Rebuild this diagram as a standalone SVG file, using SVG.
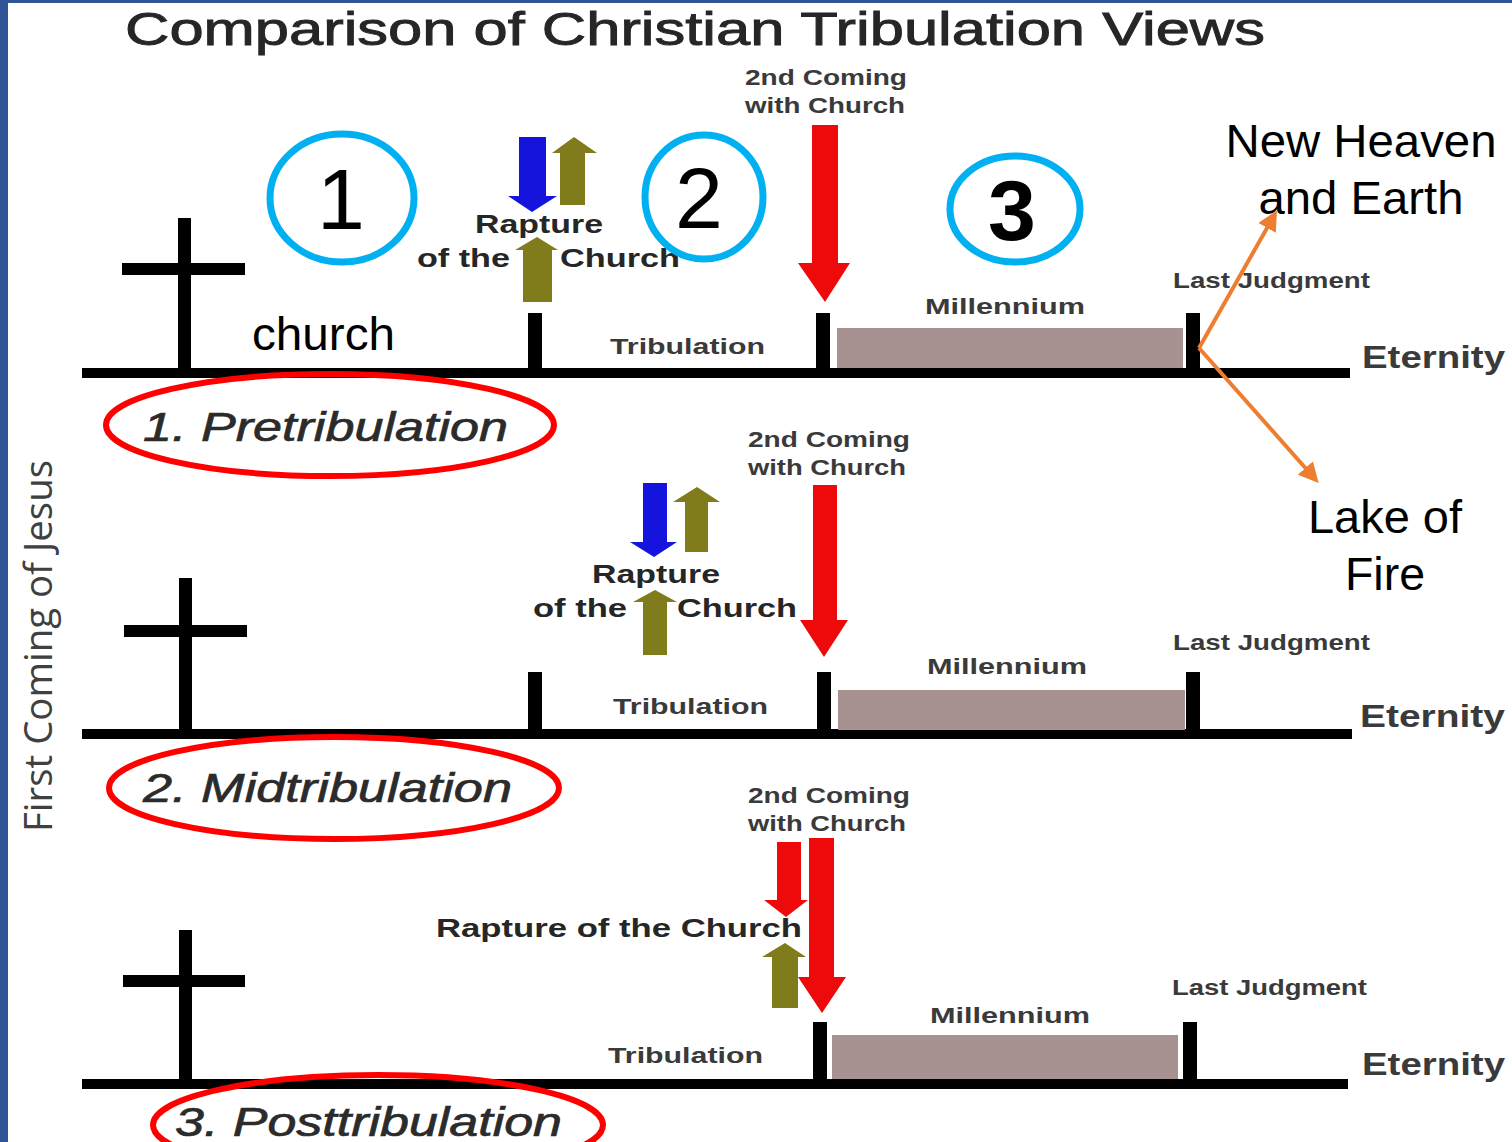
<svg xmlns="http://www.w3.org/2000/svg" width="1512" height="1142" viewBox="0 0 1512 1142">
<style>
.bg{fill:#ffffff}
.frame{fill:#2F5597}
.bar{fill:#000000}
.mill{fill:#A89191}
.lbl{font-family:"Liberation Sans",Arial,sans-serif;font-weight:bold;fill:#3a3a3a;font-size:22px}
.rap{font-family:"Liberation Sans",Arial,sans-serif;font-weight:bold;fill:#262626;font-size:25px}
.eter{font-family:"Liberation Sans",Arial,sans-serif;font-weight:bold;fill:#3a3a3a;font-size:32px}
.view{font-family:"Liberation Sans",Arial,sans-serif;font-style:italic;fill:#2b2b2b;stroke:#2b2b2b;stroke-width:0.7;font-size:40px}
.big{font-family:"Liberation Sans",Arial,sans-serif;fill:#000000;font-size:46px}
.num{font-family:"Liberation Sans",Arial,sans-serif;fill:#000000;font-size:86px;text-anchor:middle}
.bcirc{fill:none;stroke:#00B0F0;stroke-width:7}
.rell{fill:none;stroke:#FF0000;stroke-width:6}
.blue{fill:#1414DC}
.olive{fill:#807C1C}
.red{fill:#EE0A0A}
.orange{fill:none;stroke:#ED7D31;stroke-width:4}
</style>
<defs>
<marker id="oh" viewBox="0 0 10 10" refX="8" refY="5" markerWidth="5" markerHeight="5" orient="auto" markerUnits="strokeWidth">
<path d="M0,0 L10,5 L0,10 Z" fill="#ED7D31"/>
</marker>
</defs>
<rect class="bg" x="0" y="0" width="1512" height="1142"/>
<rect class="frame" x="0" y="0" width="8" height="1142"/>
<rect class="frame" x="0" y="0" width="1512" height="3"/>

<text x="125" y="45" font-family="Liberation Sans, Arial, sans-serif" font-size="46" fill="#262626" stroke="#262626" stroke-width="0.9" textLength="1140" lengthAdjust="spacingAndGlyphs">Comparison of Christian Tribulation Views</text>

<text transform="translate(52,646) rotate(-90)" text-anchor="middle" font-family="Open Sans, Liberation Sans, sans-serif" font-size="38" fill="#404040" textLength="372" lengthAdjust="spacingAndGlyphs">First Coming of Jesus</text>

<!-- Timeline 1 -->
<g id="timeline1">
<rect class="bar" x="82" y="368" width="1268" height="10"/>
<rect class="bar" x="178" y="218" width="13" height="155"/>
<rect class="bar" x="122" y="263" width="123" height="12"/>
<rect class="bar" x="528" y="313" width="14" height="60"/>
<rect class="bar" x="816" y="313" width="14" height="60"/>
<rect class="mill" x="837" y="328" width="346" height="40"/>
<rect class="bar" x="1186" y="313" width="14" height="60"/>
<text class="lbl" x="745" y="85" textLength="162" lengthAdjust="spacingAndGlyphs">2nd Coming</text>
<text class="lbl" x="745" y="113" textLength="160" lengthAdjust="spacingAndGlyphs">with Church</text>
<text class="lbl" x="610" y="354" textLength="155" lengthAdjust="spacingAndGlyphs">Tribulation</text>
<text class="lbl" x="925" y="314" textLength="160" lengthAdjust="spacingAndGlyphs">Millennium</text>
<text class="lbl" x="1173" y="288" textLength="197" lengthAdjust="spacingAndGlyphs">Last Judgment</text>
<text class="eter" x="1362" y="368" textLength="143" lengthAdjust="spacingAndGlyphs">Eternity</text>
<polygon class="blue" points="519,137 546,137 546,196 557,196 532,212 508,196 519,196"/>
<polygon class="olive" points="560,205 585,205 585,153 597,153 574,137 552,153 560,153"/>
<polygon class="olive" points="523,302 552,302 552,250 558,250 537,237 515,250 523,250"/>
<polygon class="red" points="812,125 838,125 838,263 850,263 825,302 798,263 812,263"/>
<text class="rap" x="475" y="233" textLength="128" lengthAdjust="spacingAndGlyphs">Rapture</text>
<text class="rap" x="417" y="267" textLength="93" lengthAdjust="spacingAndGlyphs">of the</text>
<text class="rap" x="560" y="267" textLength="120" lengthAdjust="spacingAndGlyphs">Church</text>
</g>

<!-- Timeline 2 -->
<g id="timeline2">
<rect class="bar" x="82" y="729" width="1270" height="10"/>
<rect class="bar" x="179" y="578" width="13" height="155"/>
<rect class="bar" x="124" y="625" width="123" height="12"/>
<rect class="bar" x="528" y="672" width="14" height="60"/>
<rect class="bar" x="817" y="672" width="14" height="60"/>
<rect class="mill" x="838" y="690" width="347" height="40"/>
<rect class="bar" x="1186" y="672" width="14" height="60"/>
<text class="lbl" x="748" y="447" textLength="162" lengthAdjust="spacingAndGlyphs">2nd Coming</text>
<text class="lbl" x="748" y="475" textLength="158" lengthAdjust="spacingAndGlyphs">with Church</text>
<text class="lbl" x="613" y="714" textLength="155" lengthAdjust="spacingAndGlyphs">Tribulation</text>
<text class="lbl" x="927" y="674" textLength="160" lengthAdjust="spacingAndGlyphs">Millennium</text>
<text class="lbl" x="1173" y="650" textLength="197" lengthAdjust="spacingAndGlyphs">Last Judgment</text>
<text class="eter" x="1360" y="727" textLength="145" lengthAdjust="spacingAndGlyphs">Eternity</text>
<polygon class="blue" points="643,483 667,483 667,542 677,542 654,557 630,542 643,542"/>
<polygon class="olive" points="685,552 708,552 708,502 720,502 697,487 673,502 685,502"/>
<polygon class="olive" points="643,655 667,655 667,602 677,602 655,590 633,602 643,602"/>
<polygon class="red" points="813,485 837,485 837,620 848,620 824,657 800,620 813,620"/>
<text class="rap" x="592" y="583" textLength="128" lengthAdjust="spacingAndGlyphs">Rapture</text>
<text class="rap" x="533" y="617" textLength="94" lengthAdjust="spacingAndGlyphs">of the</text>
<text class="rap" x="677" y="617" textLength="120" lengthAdjust="spacingAndGlyphs">Church</text>
</g>

<!-- Timeline 3 -->
<g id="timeline3">
<rect class="bar" x="82" y="1079" width="1266" height="10"/>
<rect class="bar" x="179" y="930" width="13" height="153"/>
<rect class="bar" x="123" y="975" width="122" height="12"/>
<rect class="bar" x="813" y="1022" width="14" height="60"/>
<rect class="mill" x="832" y="1035" width="346" height="44"/>
<rect class="bar" x="1183" y="1022" width="14" height="60"/>
<text class="lbl" x="748" y="803" textLength="162" lengthAdjust="spacingAndGlyphs">2nd Coming</text>
<text class="lbl" x="748" y="831" textLength="158" lengthAdjust="spacingAndGlyphs">with Church</text>
<text class="lbl" x="608" y="1063" textLength="155" lengthAdjust="spacingAndGlyphs">Tribulation</text>
<text class="lbl" x="930" y="1023" textLength="160" lengthAdjust="spacingAndGlyphs">Millennium</text>
<text class="lbl" x="1172" y="995" textLength="195" lengthAdjust="spacingAndGlyphs">Last Judgment</text>
<text class="eter" x="1362" y="1075" textLength="143" lengthAdjust="spacingAndGlyphs">Eternity</text>
<polygon class="red" points="777,842 801,842 801,900 808,900 786,917 764,900 777,900"/>
<polygon class="olive" points="772,1008 798,1008 798,957 806,957 785,943 762,957 772,957"/>
<text class="rap" x="436" y="937" textLength="366" lengthAdjust="spacingAndGlyphs">Rapture of the Church</text>
<polygon class="red" points="809,838 834,838 834,977 846,977 822,1013 798,977 809,977"/>
</g>

<!-- Annotations -->
<g id="circle1">
<ellipse class="bcirc" cx="342" cy="198" rx="72" ry="64"/>
<text class="num" x="341" y="229">1</text>
</g>
<g id="circle2">
<ellipse class="bcirc" cx="704" cy="197" rx="59" ry="62"/>
<text class="num" x="699" y="228">2</text>
</g>
<g id="circle3">
<ellipse class="bcirc" cx="1015" cy="209" rx="65" ry="53"/>
<text class="num" x="1012" y="240" font-weight="bold">3</text>
</g>
<g id="church">
<text class="big" x="252" y="350" font-size="44" textLength="143" lengthAdjust="spacingAndGlyphs">church</text>
</g>
<g id="view1">
<ellipse class="rell" cx="330" cy="425" rx="224" ry="51"/>
<text class="view" x="143" y="441" textLength="365" lengthAdjust="spacingAndGlyphs">1. Pretribulation</text>
</g>
<g id="view2">
<ellipse class="rell" cx="334" cy="788" rx="225" ry="51"/>
<text class="view" x="143" y="802" textLength="369" lengthAdjust="spacingAndGlyphs">2. Midtribulation</text>
</g>
<g id="view3">
<ellipse class="rell" cx="378" cy="1125" rx="225" ry="50"/>
<text class="view" x="175" y="1136" textLength="387" lengthAdjust="spacingAndGlyphs">3. Posttribulation</text>
</g>
<g id="newheaven">
<text class="big" x="1361" y="157" text-anchor="middle" textLength="271" lengthAdjust="spacingAndGlyphs">New Heaven</text>
<text class="big" x="1361" y="214" text-anchor="middle" textLength="205" lengthAdjust="spacingAndGlyphs">and Earth</text>
</g>
<g id="lakeoffire">
<text class="big" x="1385" y="533" text-anchor="middle" textLength="154" lengthAdjust="spacingAndGlyphs">Lake of</text>
<text class="big" x="1385" y="590" text-anchor="middle" textLength="80" lengthAdjust="spacingAndGlyphs">Fire</text>
</g>

<g id="connectors">
<line class="orange" x1="1199" y1="348" x2="1275" y2="214" marker-end="url(#oh)"/>
<line class="orange" x1="1199" y1="348" x2="1316" y2="480" marker-end="url(#oh)"/>
</g>
</svg>
